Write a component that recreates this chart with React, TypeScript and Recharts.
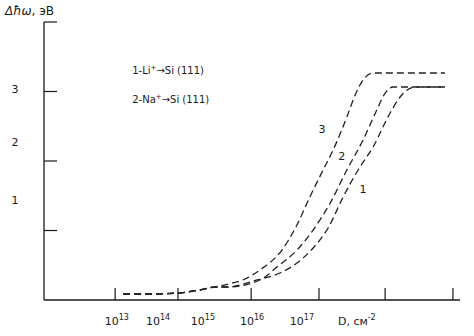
import React from "react";
import { LineChart, Line, XAxis, YAxis, ReferenceDot } from "recharts";

// x in arbitrary position units (0..100 across the axis), y in эВ
const baseX = [19.0, 25.5, 32.0, 37.5, 41.1];
const baseY = [0.086, 0.086, 0.1, 0.144, 0.187];

const curve1X = [44.0, 51.2, 56.7, 60.8, 64.7, 68.3, 71.9, 75.5, 79.1, 83.2, 85.6, 89.2, 96.4];
const curve1Y = [0.187, 0.288, 0.388, 0.532, 0.748, 1.036, 1.482, 1.871, 2.201, 2.691, 2.921, 3.065, 3.065];

const curve2X = [44.0, 51.9, 56.0, 60.8, 64.7, 68.8, 72.8, 76.7, 80.0, 82.0, 83.9, 96.4];
const curve2Y = [0.187, 0.288, 0.475, 0.719, 1.007, 1.396, 1.871, 2.302, 2.734, 2.978, 3.065, 3.065];

const curve3X = [45.4, 47.8, 51.9, 57.2, 60.8, 63.9, 67.1, 69.5, 72.8, 74.8, 76.7, 79.1, 96.4];
const curve3Y = [0.245, 0.288, 0.432, 0.719, 1.079, 1.482, 1.871, 2.158, 2.633, 2.95, 3.165, 3.266, 3.266];

const xTickPos = [17.1, 32.2, 49.8, 66.1, 82.0, 98.3];
const xLabelPos = [17.5, 27.4, 38.2, 50.0, 62.0, 75.2];
const xLabelBase = ["10", "10", "10", "10", "10", "D, см"];
const xLabelExp = ["13", "14", "15", "16", "17", "-2"];

const yTickPos = [1, 2, 3, 4];
const yLabelPos = [1.44, 2.27, 3.04];
const yLabels = ["1", "2", "3"];

const build = (xs: number[], ys: number[]) =>
  [...baseX, ...xs].map((x, i) => ({ x, y: [...baseY, ...ys][i] }));

const data1 = build(curve1X, curve1Y);
const data2 = build(curve2X, curve2Y);
const data3 = build(curve3X, curve3Y);

const font = "'DejaVu Sans', Verdana, sans-serif";
const ink = "#1a1a1a";

const XTickMark = (props: any) => (
  <line x1={props.x} x2={props.x} y1={props.y - 12} y2={props.y} stroke={ink} strokeWidth={1.2} />
);

const YTickMark = (props: any) => (
  <line x1={props.x} x2={props.x + 13} y1={props.y} y2={props.y} stroke={ink} strokeWidth={1.2} />
);

const xLabel = (i: number) => (p: any) => (
  <text x={p.cx} y={p.cy + 25} textAnchor="middle" fontSize={11} fontFamily={font} fill={ink}>
    {xLabelBase[i]}
    <tspan dy={-5} fontSize={8}>{xLabelExp[i]}</tspan>
  </text>
);

const YLabel = (props: any) => {
  const i = yLabelPos.indexOf(props.payload.value);
  if (i < 0) return null;
  return (
    <text x={15} y={props.y + 4} textAnchor="middle" fontSize={11} fontFamily={font} fill={ink}>
      {yLabels[i]}
    </text>
  );
};

const curveText = (t: string) => (p: any) => (
  <text x={p.cx} y={p.cy + 4} textAnchor="middle" fontSize={11} fontFamily={font} fill={ink}>
    {t}
  </text>
);

const legendText = (num: string, ion: string) => (p: any) => (
  <text x={p.cx} y={p.cy + 4} fontSize={10} fontFamily={font} fill={ink}>
    {num}-{ion}
    <tspan dy={-4} fontSize={7}>+</tspan>
    <tspan dy={4}>→Si (111)</tspan>
  </text>
);

export default function App() {
  const lineProps = {
    dataKey: "y",
    type: "monotone" as const,
    stroke: "#222",
    strokeWidth: 1.3,
    strokeDasharray: "7 4",
    dot: false,
    isAnimationActive: false,
    xAxisId: "main",
    yAxisId: "main",
  };
  return (
    <div style={{ position: "absolute", left: 0, top: 0, width: 474, height: 336, background: "#fff" }}>
      <div style={{ position: "absolute", left: 5, top: 4, fontFamily: font, fontSize: 12, color: ink }}>
        <i>Δħω</i>, эВ
      </div>
      <LineChart width={474} height={336} margin={{ top: 22, right: 14, bottom: 35, left: 43 }}>
        <XAxis
          xAxisId="main"
          type="number"
          dataKey="x"
          domain={[0, 100]}
          ticks={xTickPos}
          tick={<XTickMark />}
          tickLine={false}
          tickSize={0}
          tickMargin={0}
          height={1}
          axisLine={{ stroke: ink, strokeWidth: 1.3 }}
          allowDataOverflow
        />
        <YAxis
          yAxisId="main"
          type="number"
          domain={[0, 4]}
          ticks={yTickPos}
          tick={<YTickMark />}
          tickLine={false}
          tickSize={0}
          tickMargin={0}
          width={1}
          axisLine={{ stroke: ink, strokeWidth: 1.3 }}
          allowDataOverflow
        />
        <YAxis
          yAxisId="lab"
          type="number"
          domain={[0, 4]}
          ticks={yLabelPos}
          tick={<YLabel />}
          tickLine={false}
          tickSize={0}
          tickMargin={0}
          width={0.01}
          axisLine={false}
          interval={0}
          allowDataOverflow
        />
        <Line {...lineProps} data={data1} />
        <Line {...lineProps} data={data2} />
        <Line {...lineProps} data={data3} />
        {xLabelPos.map((x, i) => (
          <ReferenceDot
            key={i}
            xAxisId="main"
            yAxisId="main"
            x={x}
            y={0}
            r={0}
            ifOverflow="visible"
            shape={xLabel(i)}
          />
        ))}
        <ReferenceDot xAxisId="main" yAxisId="main" x={66.8} y={2.46} r={0} shape={curveText("3")} />
        <ReferenceDot xAxisId="main" yAxisId="main" x={71.6} y={2.07} r={0} shape={curveText("2")} />
        <ReferenceDot xAxisId="main" yAxisId="main" x={76.7} y={1.6} r={0} shape={curveText("1")} />
        <ReferenceDot xAxisId="main" yAxisId="main" x={21.2} y={3.31} r={0} shape={legendText("1", "Li")} />
        <ReferenceDot xAxisId="main" yAxisId="main" x={21.2} y={2.89} r={0} shape={legendText("2", "Na")} />
      </LineChart>
    </div>
  );
}
